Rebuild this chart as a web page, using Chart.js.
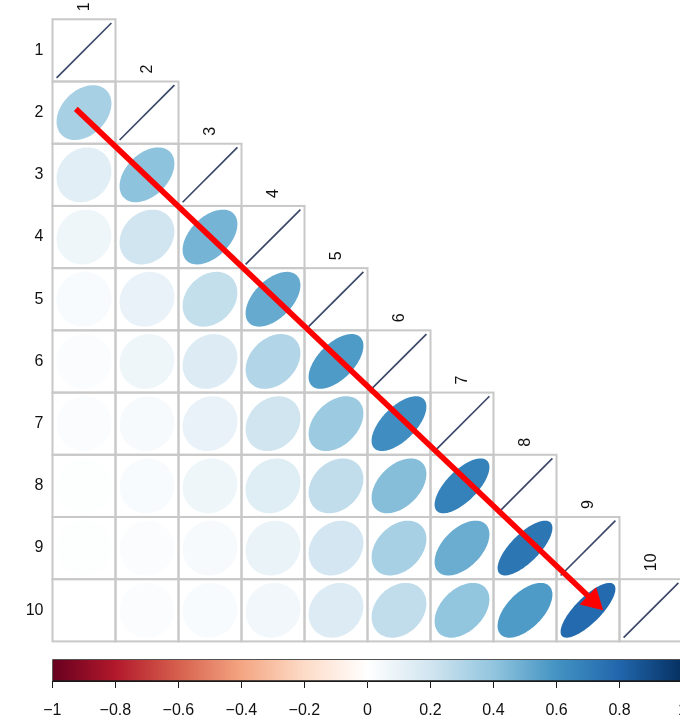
<!DOCTYPE html>
<html>
<head>
<meta charset="utf-8">
<script src="https://cdn.jsdelivr.net/npm/chart.js@4/dist/chart.umd.min.js"></script>
<style>
  html, body { margin: 0; padding: 0; background: #fff; overflow: hidden; width: 680px; height: 721px; }
  #matrix { position: absolute; left: 0; top: 0; }
  #legendBar { position: absolute; left: 0; top: 650px; }
</style>
</head>
<body>
<canvas id="matrix" width="700" height="660"></canvas>
<canvas id="legendBar" width="700" height="71"></canvas>
<script>
// Variable names (row and column labels)
const vars = ['1', '2', '3', '4', '5', '6', '7', '8', '9', '10'];

// Lower triangle of the correlation matrix, one row per variable
const corr = [
  [1],
  [0.33, 1],
  [0.13, 0.41, 1],
  [0.07, 0.20, 0.47, 1],
  [0.03, 0.10, 0.24, 0.51, 1],
  [0.02, 0.07, 0.15, 0.30, 0.57, 1],
  [0.02, 0.04, 0.10, 0.20, 0.37, 0.62, 1],
  [0.01, 0.03, 0.07, 0.14, 0.25, 0.43, 0.68, 1],
  [0.01, 0.02, 0.04, 0.09, 0.19, 0.33, 0.50, 0.73, 1],
  [0.00, 0.02, 0.03, 0.06, 0.15, 0.25, 0.40, 0.57, 0.78, 1]
];

// Colour bar tick values
const barTicks = [-1, -0.8, -0.6, -0.4, -0.2, 0, 0.2, 0.4, 0.6, 0.8, 1];

// Arrow along the sub-diagonal, in (column, row) units
const arrowFrom = [0.87, 1.94];
const arrowTo = [9.24, 10.0];

// RdBu diverging palette, -1 .. 1
const palette = ['#67001F', '#B2182B', '#D6604D', '#F4A582', '#FDDBC7', '#FFFFFF',
                 '#D1E5F0', '#92C5DE', '#4393C3', '#2166AC', '#053061'];

function hexToRgb(h) {
  return [parseInt(h.slice(1, 3), 16), parseInt(h.slice(3, 5), 16), parseInt(h.slice(5, 7), 16)];
}
function colourFor(v) {
  const p = (v + 1) / 2 * (palette.length - 1);
  const i = Math.min(Math.floor(p), palette.length - 2);
  const t = p - i;
  const a = hexToRgb(palette[i]), b = hexToRgb(palette[i + 1]);
  const c = a.map((ch, k) => Math.round(ch + (b[k] - ch) * t));
  return `rgb(${c[0]},${c[1]},${c[2]})`;
}

const FONT = '"Liberation Sans", Arial, Helvetica, sans-serif';
const TEXT = '#111111';
Chart.defaults.font.family = FONT;
Chart.defaults.font.size = 16;
Chart.defaults.color = TEXT;

// Points of the matrix: one per lower-triangle cell
const cells = [];
corr.forEach((row, i) => row.forEach((v, j) => cells.push({ x: j + 1, y: i + 1, v })));

const corrPlot = {
  id: 'corrPlot',
  beforeDatasetsDraw(chart) {
    const { ctx, scales: { x, y } } = chart;
    ctx.save();
    ctx.strokeStyle = '#c8c8c8';
    ctx.lineWidth = 2;
    cells.forEach(c => {
      const l = x.getPixelForValue(c.x - 0.5), r = x.getPixelForValue(c.x + 0.5);
      const t = y.getPixelForValue(c.y - 0.5), b = y.getPixelForValue(c.y + 0.5);
      ctx.strokeRect(l, t, r - l, b - t);
    });
    ctx.restore();
  },
  afterDatasetsDraw(chart) {
    const { ctx, scales: { x, y } } = chart;
    const meta = chart.getDatasetMeta(0);
    const cellW = x.getPixelForValue(1.5) - x.getPixelForValue(0.5);
    const s = cellW * 0.435;
    ctx.save();
    meta.data.forEach((pt, k) => {
      const v = chart.data.datasets[0].data[k].v;
      const cx = pt.x, cy = pt.y;
      if (v >= 0.999) {
        ctx.strokeStyle = '#3b4869';
        ctx.lineWidth = 1.7;
        ctx.beginPath();
        ctx.moveTo(cx - s, cy + s);
        ctx.lineTo(cx + s, cy - s);
        ctx.stroke();
        return;
      }
      const d = Math.acos(v);
      ctx.fillStyle = colourFor(v);
      ctx.beginPath();
      for (let n = 0; n <= 120; n++) {
        const th = n / 120 * Math.PI * 2;
        const px = cx + s * Math.cos(th + d / 2);
        const py = cy - s * Math.cos(th - d / 2);
        if (n === 0) ctx.moveTo(px, py); else ctx.lineTo(px, py);
      }
      ctx.closePath();
      ctx.fill();
    });

    // Column labels above each diagonal cell, rotated
    ctx.fillStyle = TEXT;
    ctx.font = `16px ${FONT}`;
    ctx.textAlign = 'left';
    ctx.textBaseline = 'middle';
    vars.forEach((name, i) => {
      const px = x.getPixelForValue(i + 1);
      const top = y.getPixelForValue(i + 0.5);
      ctx.save();
      ctx.translate(px, top - 8);
      ctx.rotate(-Math.PI / 2);
      ctx.fillText(name, 0, 1);
      ctx.restore();
    });

    // Red arrow
    const x0 = x.getPixelForValue(arrowFrom[0]), y0 = y.getPixelForValue(arrowFrom[1]);
    const x1 = x.getPixelForValue(arrowTo[0]), y1 = y.getPixelForValue(arrowTo[1]);
    const ang = Math.atan2(y1 - y0, x1 - x0);
    const headLen = 21, headHalf = 12;
    ctx.strokeStyle = '#ff0000';
    ctx.fillStyle = '#ff0000';
    ctx.lineWidth = 5.6;
    ctx.lineCap = 'butt';
    ctx.beginPath();
    ctx.moveTo(x0, y0);
    ctx.lineTo(x1 - Math.cos(ang) * (headLen - 4), y1 - Math.sin(ang) * (headLen - 4));
    ctx.stroke();
    const bx = x1 - Math.cos(ang) * headLen, by = y1 - Math.sin(ang) * headLen;
    ctx.beginPath();
    ctx.moveTo(x1, y1);
    ctx.lineTo(bx + Math.sin(ang) * headHalf, by - Math.cos(ang) * headHalf);
    ctx.lineTo(bx - Math.sin(ang) * headHalf, by + Math.cos(ang) * headHalf);
    ctx.closePath();
    ctx.fill();
    ctx.restore();
  }
};

new Chart(document.getElementById('matrix'), {
  type: 'scatter',
  data: {
    datasets: [{ data: cells, pointRadius: 0, pointHoverRadius: 0 }]
  },
  options: {
    responsive: false,
    animation: false,
    devicePixelRatio: 1,
    layout: { padding: { left: 0, top: 19.3, right: 17.5, bottom: 11.7 } },
    plugins: { legend: { display: false }, tooltip: { enabled: false } },
    events: [],
    scales: {
      x: { type: 'linear', min: 0.5, max: 10.5, display: false },
      y: {
        type: 'linear', min: 0.5, max: 10.5, reverse: true,
        grid: { display: false, drawTicks: false },
        border: { display: false },
        afterFit(scale) { scale.width = 52.5; },
        afterBuildTicks(scale) { scale.ticks = vars.map((_, i) => ({ value: i + 1 })); },
        ticks: {
          padding: 9,
          color: TEXT,
          font: { size: 16 },
          callback: (v) => vars[v - 1]
        }
      }
    }
  },
  plugins: [corrPlot]
});

// Colour bar
const fmt = (v) => {
  const r = Math.round(v * 10) / 10;
  return r < 0 ? '\u2212' + String(-r) : String(r);
};

new Chart(document.getElementById('legendBar'), {
  type: 'bar',
  data: {
    labels: ['r'],
    datasets: [{
      data: [[-1, 1]],
      backgroundColor(c) {
        const ch = c.chart;
        if (!ch.chartArea) return '#ffffff';
        const xs = ch.scales.x;
        const g = ch.ctx.createLinearGradient(xs.getPixelForValue(-1), 0, xs.getPixelForValue(1), 0);
        palette.forEach((col, i) => g.addColorStop(i / (palette.length - 1), col));
        return g;
      },
      borderColor: '#1a1a1a',
      borderWidth: 1,
      borderSkipped: false,
      barPercentage: 1,
      categoryPercentage: 1
    }]
  },
  options: {
    indexAxis: 'y',
    responsive: false,
    animation: false,
    devicePixelRatio: 1,
    events: [],
    layout: { padding: { left: 52.3, top: 9.3, right: 16, bottom: 0 } },
    plugins: { legend: { display: false }, tooltip: { enabled: false } },
    scales: {
      y: { display: false },
      x: {
        type: 'linear', position: 'bottom', min: -1, max: 1,
        afterFit(scale) { scale.height = 40; },
        afterBuildTicks(scale) { scale.ticks = barTicks.map(v => ({ value: v })); },
        grid: { drawOnChartArea: false, drawTicks: true, tickLength: 7, color: '#1a1a1a', lineWidth: 1 },
        border: { display: true, color: '#1a1a1a' },
        ticks: {
          padding: 13, color: TEXT, maxRotation: 0, autoSkip: false,
          font: { size: 16 },
          callback: (v) => fmt(v)
        }
      }
    }
  }
});
</script>
</body>
</html>
